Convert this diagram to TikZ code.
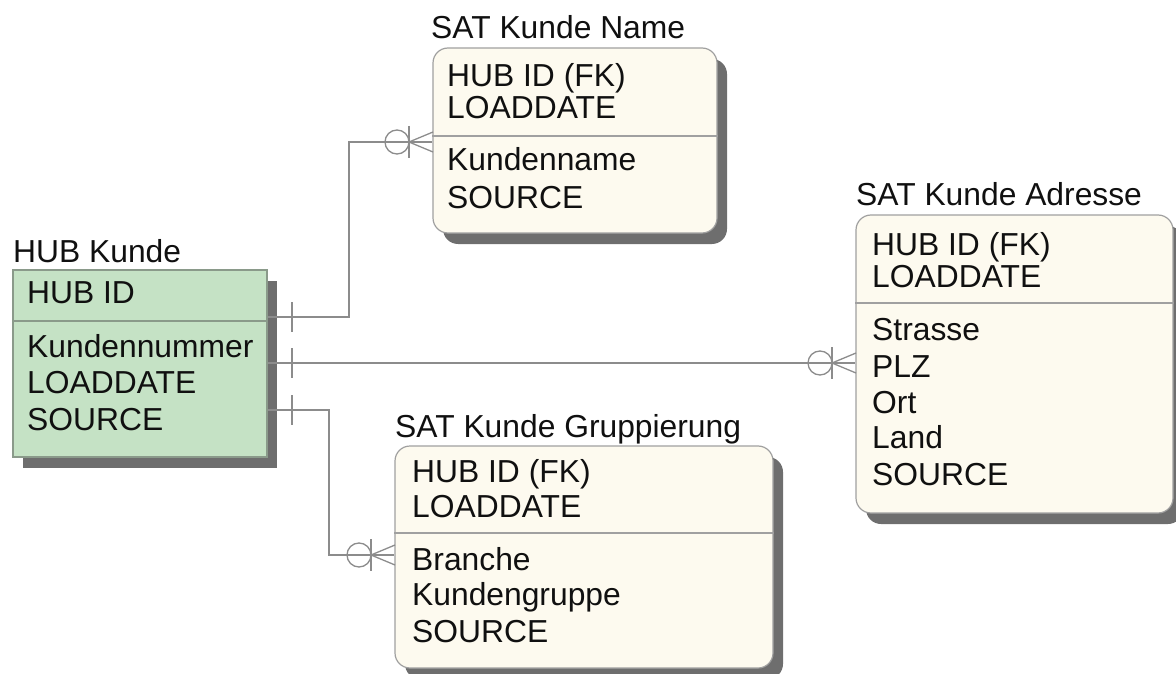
\documentclass[tikz,border=0pt]{standalone}
\usepackage{fontspec}
\setmainfont{Liberation Sans}
\usetikzlibrary{shadows}
\definecolor{hubfill}{HTML}{C5E2C5}
\definecolor{hubline}{HTML}{8A9A8A}
\definecolor{satfill}{HTML}{FDFAEF}
\definecolor{satline}{HTML}{A0A0A0}
\definecolor{shadowgray}{HTML}{6E6E6E}
\definecolor{connline}{HTML}{8C8C8C}
\definecolor{txt}{HTML}{101010}
\tikzset{
  entitytitle/.style={anchor=base west, inner sep=0pt, font=\fontsize{31.8}{37}\selectfont, text=txt},
  attr/.style={anchor=base west, inner sep=0pt, font=\fontsize{31.8}{37}\selectfont, text=txt},
  hubbox/.style={draw=hubline, line width=1.2pt, fill=hubfill, inner sep=0pt,
    drop shadow={shadow xshift=10pt, shadow yshift=-11pt, fill=shadowgray, opacity=1}},
  satbox/.style={draw=satline, line width=1.2pt, fill=satfill, inner sep=0pt, rounded corners=15pt,
    drop shadow={shadow xshift=10pt, shadow yshift=-11pt, fill=shadowgray, opacity=1}},
  sepline/.style={draw=satline, line width=1.2pt},
  conn/.style={draw=connline, line width=1.3pt},
}
% one-and-only-one bar on the hub side
\newcommand{\hubbar}[2]{\draw[conn] (#1,#2-15) -- (#1,#2+15);}
% zero-or-many end: circle, bar and crow's foot ending at the box edge (#1,#2)
\newcommand{\crowfoot}[2]{%
  \draw[conn] (#1-36,#2) circle[radius=12pt];
  \draw[conn] (#1-24,#2-16) -- (#1-24,#2+16);
  \draw[conn] (#1,#2-10) -- (#1-24,#2) -- (#1,#2+10);}
\begin{document}
\begin{tikzpicture}[x=1pt,y=-1pt]
\useasboundingbox (0,0) rectangle (1176,674);

% HUB Kunde
\node[entitytitle] (hubt) at (13,262) {HUB Kunde};
\node[hubbox, minimum width=254pt, minimum height=187pt] (hub) at (140,363.5) {};
\draw[draw=hubline, line width=1.2pt] (hub.west |- 0,321) -- (hub.east |- 0,321);
\node[attr] (h1) at (27,303) {HUB ID};
\node[attr] (h2) at (27,357) {Kundennummer};
\node[attr] (h3) at (27,393) {LOADDATE};
\node[attr] (h4) at (27,430) {SOURCE};

% SAT Kunde Name
\node[entitytitle] (namet) at (431,39) {SAT Kunde Name};
\node[satbox, minimum width=284pt, minimum height=185pt] (name) at (575,140.5) {};
\draw[sepline] (name.west |- 0,136) -- (name.east |- 0,136);
\node[attr] (n1) at (447,87) {HUB ID (FK)};
\node[attr] (n2) at (447,119) {LOADDATE};
\node[attr] (n3) at (447,171) {Kundenname};
\node[attr] (n4) at (447,208) {SOURCE};

% SAT Kunde Adresse
\node[entitytitle] (adrt) at (856,206) {SAT Kunde Adresse};
\node[satbox, minimum width=317pt, minimum height=298pt] (adr) at (1014.5,364) {};
\draw[sepline] (adr.west |- 0,303) -- (adr.east |- 0,303);
\node[attr] (a1) at (872,255) {HUB ID (FK)};
\node[attr] (a2) at (872,287) {LOADDATE};
\node[attr] (a3) at (872,340) {Strasse};
\node[attr] (a4) at (872,377) {PLZ};
\node[attr] (a5) at (872,413) {Ort};
\node[attr] (a6) at (872,448) {Land};
\node[attr] (a7) at (872,485) {SOURCE};

% SAT Kunde Gruppierung
\node[entitytitle] (grpt) at (395,437) {SAT Kunde Gruppierung};
\node[satbox, minimum width=378pt, minimum height=222pt] (grp) at (584,557) {};
\draw[sepline] (grp.west |- 0,533) -- (grp.east |- 0,533);
\node[attr] (g1) at (412,482) {HUB ID (FK)};
\node[attr] (g2) at (412,517) {LOADDATE};
\node[attr] (g3) at (412,570) {Branche};
\node[attr] (g4) at (412,605) {Kundengruppe};
\node[attr] (g5) at (412,642) {SOURCE};

% relationships
\draw[conn] (hub.east |- 0,317) -| (349,142) -- (name.west |- 0,142);
\draw[conn] (hub.east |- 0,363) -- (adr.west |- 0,363);
\draw[conn] (hub.east |- 0,410) -| (329,555) -- (grp.west |- 0,555);
\hubbar{292}{317}
\hubbar{292}{363}
\hubbar{292}{410}
\crowfoot{433}{142}
\crowfoot{856}{363}
\crowfoot{395}{555}
\end{tikzpicture}
\end{document}
